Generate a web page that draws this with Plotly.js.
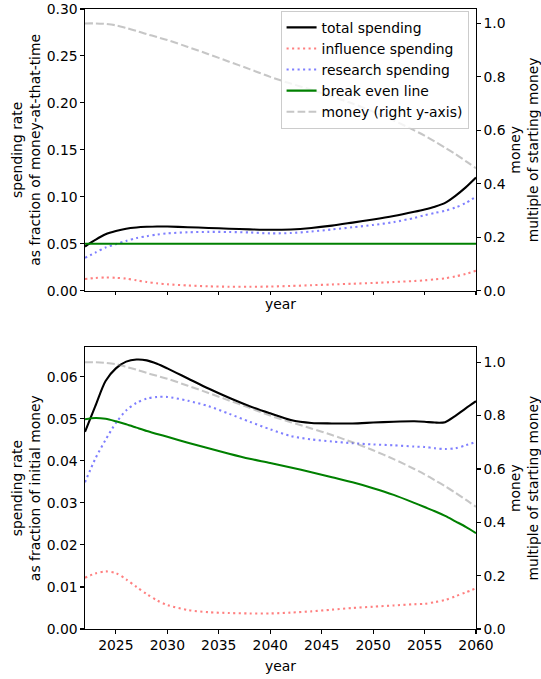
<!DOCTYPE html>
<html>
<head>
<meta charset="utf-8">
<script src="https://cdn.plot.ly/plotly-3.0.1.min.js"></script>
<style>
html,body{margin:0;padding:0;background:#fff;}
#chart{width:541px;height:679px;}
</style>
</head>
<body>
<div id="chart"></div>
<script>
// ---- data ----
var years = [2022,2023,2024,2025,2026,2027,2028,2029,2030,2032,2034,2036,2038,2040,2042,2044,2046,2048,2050,2052,2054,2055,2056,2057,2058,2059,2060];

// money, multiple of starting money (right axis, both panels)
var money = [1.000,1.000,0.998,0.993,0.983,0.972,0.960,0.949,0.938,0.912,0.885,0.857,0.829,0.800,0.775,0.752,0.727,0.700,0.670,0.637,0.600,0.580,0.558,0.535,0.511,0.485,0.458];

// top panel: spending rate as fraction of money-at-that-time
var topTotal = [0.0470,0.0540,0.0600,0.0635,0.0660,0.0673,0.0680,0.0684,0.0683,0.0676,0.0668,0.0660,0.0653,0.0648,0.0652,0.0668,0.0693,0.0725,0.0758,0.0795,0.0840,0.0865,0.0895,0.0935,0.1010,0.1100,0.1205];
var topInfluence = [0.0125,0.0135,0.0140,0.0137,0.0128,0.0110,0.0092,0.0078,0.0068,0.0055,0.0046,0.0042,0.0041,0.0044,0.0050,0.0058,0.0066,0.0074,0.0082,0.0092,0.0103,0.0110,0.0120,0.0132,0.0152,0.0178,0.0212];
var topResearch = [0.0350,0.0405,0.0460,0.0495,0.0530,0.0560,0.0580,0.0598,0.0610,0.0622,0.0626,0.0625,0.0620,0.0610,0.0614,0.0630,0.0652,0.0675,0.0700,0.0730,0.0775,0.0804,0.0828,0.0852,0.0885,0.0935,0.1000];
var topBreakEven = [0.05,0.05,0.05,0.05,0.05,0.05,0.05,0.05,0.05,0.05,0.05,0.05,0.05,0.05,0.05,0.05,0.05,0.05,0.05,0.05,0.05,0.05,0.05,0.05,0.05,0.05,0.05];

// bottom panel: spending rate as fraction of initial money
var botTotal = [0.0469,0.0530,0.0590,0.0620,0.0636,0.0641,0.0639,0.0631,0.0620,0.0596,0.0572,0.0550,0.0530,0.0513,0.0497,0.0490,0.0489,0.0489,0.0491,0.0493,0.0494,0.0493,0.0491,0.0492,0.0507,0.0525,0.0542];
var botInfluence = [0.0122,0.0132,0.0137,0.0133,0.0118,0.0100,0.0083,0.0068,0.0057,0.0045,0.0040,0.0038,0.0037,0.0037,0.0039,0.0042,0.0046,0.0050,0.0053,0.0056,0.0059,0.0060,0.0064,0.0069,0.0078,0.0087,0.0097];
var botResearch = [0.0349,0.0405,0.0450,0.0490,0.0520,0.0538,0.0548,0.0552,0.0552,0.0543,0.0530,0.0512,0.0493,0.0475,0.0459,0.0451,0.0446,0.0442,0.0439,0.0437,0.0434,0.0433,0.0430,0.0428,0.0430,0.0437,0.0445];
var botBreakEven = [0.0499,0.0502,0.0500,0.0494,0.0487,0.0479,0.0471,0.0464,0.0457,0.0443,0.0430,0.0417,0.0405,0.0395,0.0384,0.0373,0.0361,0.0349,0.0335,0.0319,0.0300,0.0290,0.0280,0.0269,0.0256,0.0243,0.0228];

var seriesNames = ['total spending','influence spending','research spending','break even line','money (right y-axis)'];
var xTicks = [2025,2030,2035,2040,2045,2050,2055,2060];

// ---- styles ----
var LW = 2.08;
var styles = [
  {color:'#000000', width:LW, dash:'solid'},
  {color:'rgba(255,0,0,0.5)', width:LW, dash:'2.1px,3.4px'},
  {color:'rgba(0,0,255,0.5)', width:LW, dash:'2.1px,3.4px'},
  {color:'#008000', width:LW, dash:'solid'},
  {color:'rgba(128,128,128,0.45)', width:LW, dash:'7.7px,3.3px'}
];

function tr(y, i, xa, ya, show){
  return {x:years, y:y, type:'scatter', mode:'lines', name:seriesNames[i],
    legendgroup:'g'+i, showlegend:show, xaxis:xa, yaxis:ya,
    line:{color:styles[i].color, width:styles[i].width, dash:styles[i].dash, shape:'spline', smoothing:0.8},
    hoverinfo:'skip'};
}

var data = [
  tr(topTotal,0,'x','y',true),
  tr(topInfluence,1,'x','y',true),
  tr(topResearch,2,'x','y',true),
  tr(topBreakEven,3,'x','y',true),
  tr(money,4,'x','y2',true),
  tr(botTotal,0,'x2','y3',false),
  tr(botInfluence,1,'x2','y3',false),
  tr(botResearch,2,'x2','y3',false),
  tr(botBreakEven,3,'x2','y3',false),
  tr(money,4,'x2','y4',false)
];

var FONT = {family:'DejaVu Sans, sans-serif', size:13.9, color:'#000'};
var axBase = {showgrid:false, zeroline:false, showline:true, linecolor:'#000', linewidth:1.1,
  ticks:'outside', ticklen:3.5, tickwidth:1.1, tickcolor:'#000', tickfont:FONT, automargin:false};

function ax(extra){ var o = {}; for (var k in axBase) o[k]=axBase[k]; for (var k2 in extra) o[k2]=extra[k2]; return o; }

var layout = {
  width:541, height:679,
  margin:{l:85, r:65.2, t:9.3, b:50.3, pad:0},
  paper_bgcolor:'#fff', plot_bgcolor:'#fff',
  font:FONT,
  showlegend:true,
  legend:{x:0.981, y:0.997, xanchor:'right', yanchor:'top', bgcolor:'rgba(255,255,255,0.8)',
    bordercolor:'#cccccc', borderwidth:1, font:FONT, tracegroupgap:3, traceorder:'normal'},
  xaxis: ax({domain:[0,1], anchor:'y', range:[2022,2060], tickvals:xTicks, showticklabels:false, mirror:true,
    title:{text:'year', font:FONT, standoff:5}}),
  yaxis: ax({domain:[0.5457,1], anchor:'x', range:[0,0.30], dtick:0.05, tick0:0, tickformat:'.2f',
    title:{text:'spending rate<br>as fraction of money-at-that-time', font:FONT, standoff:2}}),
  yaxis2: ax({overlaying:'y', side:'right', anchor:'x', range:[0,1.054], dtick:0.2, tick0:0, tickformat:'.1f',
    title:{text:'money<br>multiple of starting money', font:FONT, standoff:9}}),
  xaxis2: ax({domain:[0,1], anchor:'y3', range:[2022,2060], tickvals:xTicks, mirror:true,
    title:{text:'year', font:FONT, standoff:9}}),
  yaxis3: ax({domain:[0,0.4543], anchor:'x2', range:[0,0.067], dtick:0.01, tick0:0, tickformat:'.2f',
    title:{text:'spending rate<br>as fraction of initial money', font:FONT, standoff:2}}),
  yaxis4: ax({overlaying:'y3', side:'right', anchor:'x2', range:[0,1.056], dtick:0.2, tick0:0, tickformat:'.1f',
    title:{text:'money<br>multiple of starting money', font:FONT, standoff:9}})
};

Plotly.newPlot('chart', data, layout, {staticPlot:true, displayModeBar:false});
</script>
</body>
</html>
